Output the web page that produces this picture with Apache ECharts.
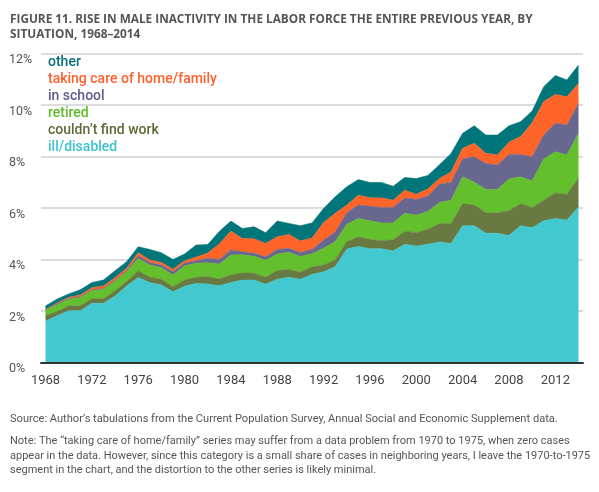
<!DOCTYPE html>
<html>
<head>
<meta charset="utf-8">
<script src="https://cdn.jsdelivr.net/npm/echarts@6/dist/echarts.min.js"></script>
<style>
  html, body { margin: 0; padding: 0; background: #fff; }
  #chart { width: 599px; height: 492px; }
</style>
</head>
<body>
<div id="chart"></div>
<script>
// years on the x axis
const years = ['1968', '1969', '1970', '1971', '1972', '1973', '1974', '1975', '1976', '1977',
  '1978', '1979', '1980', '1981', '1982', '1983', '1984', '1985', '1986', '1987',
  '1988', '1989', '1990', '1991', '1992', '1993', '1994', '1995', '1996', '1997',
  '1998', '1999', '2000', '2001', '2002', '2003', '2004', '2005', '2006', '2007',
  '2008', '2009', '2010', '2011', '2012', '2013', '2014'];

const illDisabled = [1.62, 1.82, 2.02, 2.02, 2.31, 2.31, 2.59, 2.98, 3.31, 3.11,
  3.02, 2.76, 2.97, 3.08, 3.06, 2.99, 3.11, 3.21, 3.21, 3.05,
  3.24, 3.32, 3.24, 3.43, 3.53, 3.73, 4.42, 4.51, 4.43, 4.43,
  4.34, 4.60, 4.53, 4.60, 4.69, 4.63, 5.32, 5.32, 5.03, 5.03,
  4.94, 5.32, 5.24, 5.51, 5.60, 5.54, 6.05];
const couldntFind = [0.20, 0.17, 0.19, 0.19, 0.17, 0.17, 0.20, 0.17, 0.26, 0.21,
  0.22, 0.19, 0.24, 0.24, 0.28, 0.26, 0.30, 0.28, 0.26, 0.27,
  0.34, 0.30, 0.27, 0.29, 0.26, 0.26, 0.28, 0.37, 0.36, 0.31,
  0.43, 0.50, 0.52, 0.58, 0.72, 0.78, 0.86, 0.80, 0.79, 0.79,
  0.96, 0.86, 0.79, 0.80, 0.99, 0.99, 1.12];
const retired = [0.22, 0.26, 0.26, 0.32, 0.32, 0.37, 0.38, 0.38, 0.48, 0.47,
  0.45, 0.46, 0.55, 0.54, 0.54, 0.58, 0.77, 0.70, 0.66, 0.66,
  0.64, 0.67, 0.61, 0.51, 0.65, 0.71, 0.68, 0.72, 0.72, 0.69,
  0.66, 0.70, 0.68, 0.69, 0.81, 0.90, 1.04, 0.89, 0.91, 0.91,
  1.23, 1.04, 1.03, 1.60, 1.60, 1.54, 1.74];
const inSchool = [0.02, 0.05, 0.03, 0.03, 0.03, 0.03, 0.03, 0.04, 0.10, 0.10,
  0.10, 0.12, 0.11, 0.10, 0.18, 0.18, 0.20, 0.12, 0.12, 0.13,
  0.18, 0.15, 0.16, 0.17, 0.32, 0.38, 0.44, 0.52, 0.57, 0.60,
  0.60, 0.60, 0.61, 0.60, 0.72, 0.69, 0.69, 0.99, 1.01, 0.95,
  0.96, 0.87, 0.94, 0.93, 1.11, 1.16, 1.16];
const homeFamily = [0.01, 0.02, 0.04, 0.07, 0.08, 0.10, 0.10, 0.10, 0.12, 0.10,
  0.10, 0.10, 0.09, 0.14, 0.20, 0.60, 0.73, 0.51, 0.56, 0.52,
  0.49, 0.54, 0.45, 0.44, 0.68, 0.72, 0.30, 0.38, 0.33, 0.37,
  0.28, 0.30, 0.20, 0.28, 0.21, 0.41, 0.42, 0.52, 0.39, 0.39,
  0.47, 0.69, 1.32, 1.30, 1.12, 1.10, 0.78];
const other = [0.13, 0.15, 0.13, 0.20, 0.20, 0.23, 0.27, 0.25, 0.23, 0.41,
  0.38, 0.38, 0.26, 0.47, 0.33, 0.49, 0.39, 0.39, 0.47, 0.42,
  0.61, 0.43, 0.59, 0.59, 0.55, 0.64, 0.71, 0.61, 0.59, 0.60,
  0.54, 0.49, 0.61, 0.52, 0.54, 0.71, 0.58, 0.68, 0.71, 0.77,
  0.64, 0.58, 0.45, 0.58, 0.73, 0.65, 0.71];

const xTicks = ['1968', '1972', '1976', '1980', '1984', '1988', '1992', '1996', '2000', '2004', '2008', '2012'];

var chart = echarts.init(document.getElementById('chart'));

// bottom layer first
var layers = [
  { name: 'ill/disabled', data: illDisabled, color: '#43C8CF', text: '#3DC3CC' },
  { name: 'couldn’t find work', data: couldntFind, color: '#687941', text: '#5C6A38' },
  { name: 'retired', data: retired, color: '#63BF2B', text: '#5DBB27' },
  { name: 'in school', data: inSchool, color: '#67678F', text: '#5C5C8C' },
  { name: 'taking care of home/family', data: homeFamily, color: '#FF6428', text: '#FF5F2A' },
  { name: 'other', data: other, color: '#00767B', text: '#0A6F78' }
];

var series = layers.map(function (l) {
  return {
    name: l.name,
    type: 'line',
    stack: 'all',
    symbol: 'none',
    xAxisIndex: 1,
    yAxisIndex: 1,
    data: l.data,
    lineStyle: { width: 0.6, color: l.color },
    areaStyle: { color: l.color, opacity: 1 },
    itemStyle: { color: l.color },
    emphasis: { disabled: true }
  };
});

var font = 'Roboto';

var option = {
  animation: false,
  title: {
    text: 'FIGURE 11. RISE IN MALE INACTIVITY IN THE LABOR FORCE THE ENTIRE PREVIOUS YEAR, BY\nSITUATION, 1968–2014',
    left: 10,
    top: 12,
    padding: 0,
    textStyle: {
      fontFamily: 'Open Sans',
      fontWeight: 'bold',
      fontSize: 11.8,
      lineHeight: 15,
      color: '#555'
    }
  },
  legend: {
    orient: 'vertical',
    left: 43,
    top: 55,
    padding: 0,
    itemWidth: 0,
    itemHeight: 14,
    itemGap: 3,
    icon: 'none',
    selectedMode: false,
    data: layers.slice().reverse().map(function (l) {
      return { name: l.name, textStyle: { color: l.text } };
    }),
    textStyle: { fontFamily: font, fontWeight: 500, fontSize: 14, lineHeight: 14 }
  },
  // grid 0: gridlines and axis line (a bit wider), grid 1: the areas
  grid: [
    { left: 41, right: 16, top: 53.7, bottom: 129.3 },
    { left: 45.5, right: 20.5, top: 53.7, bottom: 129.3 }
  ],
  xAxis: [
    {
      type: 'value',
      gridIndex: 0,
      min: 0,
      max: 1,
      z: 5,
      axisLine: { show: true, lineStyle: { color: '#333', width: 2 } },
      axisTick: { show: false },
      axisLabel: { show: false },
      splitLine: { show: false }
    },
    {
      type: 'category',
      gridIndex: 1,
      data: years,
      boundaryGap: false,
      axisLine: { show: false },
      axisTick: { show: false },
      splitLine: { show: false },
      axisLabel: {
        interval: function (idx, val) { return xTicks.indexOf(val) >= 0; },
        color: '#444',
        fontFamily: font,
        fontSize: 13,
        margin: 12
      }
    }
  ],
  yAxis: [
    {
      type: 'value',
      gridIndex: 0,
      min: 0,
      max: 12,
      interval: 2,
      axisLine: { show: false },
      axisTick: { show: false },
      splitLine: { lineStyle: { color: '#dcdcdc', width: 2 } },
      axisLabel: {
        formatter: '{value}%',
        align: 'left',
        verticalAlign: 'top',
        margin: 32,
        color: '#555',
        fontFamily: font,
        fontSize: 12.5
      }
    },
    {
      type: 'value',
      gridIndex: 1,
      min: 0,
      max: 12,
      interval: 2,
      show: false,
      splitLine: { show: false }
    }
  ],
  graphic: [
    {
      type: 'text',
      left: 10,
      top: 414,
      style: {
        text: 'Source: Author’s tabulations from the Current Population Survey, Annual Social and Economic Supplement data.',
        font: '11.1px Roboto',
        fill: '#555'
      }
    },
    {
      type: 'text',
      left: 10,
      top: 434,
      style: {
        text: 'Note: The “taking care of home/family” series may suffer from a data problem from 1970 to 1975, when zero cases\nappear in the data. However, since this category is a small share of cases in neighboring years, I leave the 1970-to-1975\nsegment in the chart, and the distortion to the other series is likely minimal.',
        font: '11px Roboto',
        lineHeight: 14.5,
        fill: '#555'
      }
    }
  ],
  series: series
};

chart.setOption(option);
</script>
</body>
</html>
